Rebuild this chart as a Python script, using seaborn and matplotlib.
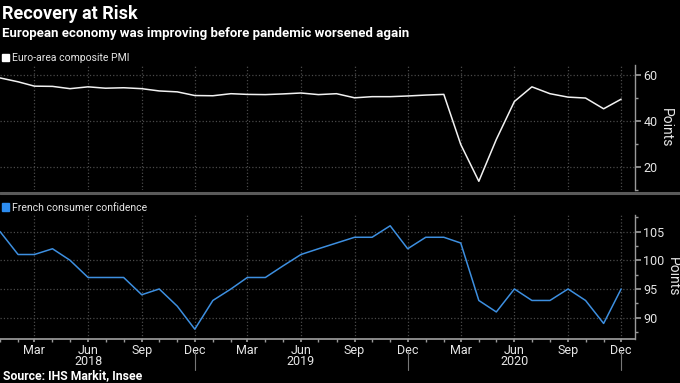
import pandas as pd
import numpy as np
import matplotlib
matplotlib.use("Agg")
import matplotlib.pyplot as plt
import matplotlib.dates as mdates
from matplotlib.patches import Patch
from matplotlib.ticker import MultipleLocator
import seaborn as sns

# monthly data, Jan 2018 - Dec 2020
months = pd.date_range("2018-01-01", periods=36, freq="MS")
pmi = [58.8, 57.1, 55.2, 55.1, 54.1, 54.9, 54.3, 54.5, 54.1, 53.1, 52.7, 51.1,
       51.0, 51.9, 51.6, 51.5, 51.8, 52.2, 51.5, 51.9, 50.1, 50.6, 50.6, 50.9,
       51.3, 51.6, 29.7, 13.6, 31.9, 48.5, 54.9, 51.9, 50.4, 50.0, 45.3, 49.5]
french_conf = [105, 101, 101, 102, 100, 97, 97, 97, 94, 95, 92, 88,
               93, 95, 97, 97, 99, 101, 102, 103, 104, 104, 106, 102,
               104, 104, 103, 93, 91, 95, 93, 93, 95, 93, 89, 95]
years = [2018, 2019, 2020]

df = pd.DataFrame({"date": months, "pmi": pmi, "conf": french_conf})

sns.set_theme(style="dark")
plt.rcParams["font.family"] = ["Roboto", "DejaVu Sans"]

bg = "black"
grid_c = "#4a4a4a"
spine_c = "#9a9a9a"
txt_c = "#e6e6e6"
blue = "#3d8fe0"

fig = plt.figure(figsize=(6.8, 3.83), dpi=100, facecolor=bg)
ax1 = fig.add_axes([0.0, 0.504, 0.934, 0.326])
ax2 = fig.add_axes([0.0, 0.115, 0.934, 0.324], sharex=ax1)

sns.lineplot(data=df, x="date", y="pmi", ax=ax1, color="#f2f2f2", linewidth=1.1)
sns.lineplot(data=df, x="date", y="conf", ax=ax2, color=blue, linewidth=1.1)

ax1.set_xlim(pd.Timestamp("2018-01-01"), pd.Timestamp("2020-12-25"))
ax1.set_ylim(9.8, 64.4)
ax2.set_ylim(86.3, 107.9)

for ax in (ax1, ax2):
    ax.set_facecolor(bg)
    ax.set_xlabel("")
    ax.set_ylabel("Points", rotation=270, color=txt_c, fontsize=10, labelpad=11)
    ax.yaxis.set_label_position("right")
    ax.yaxis.tick_right()
    for s in ["left", "top", "bottom"]:
        ax.spines[s].set_visible(False)
    ax.spines["right"].set_visible(True)
    ax.spines["right"].set_color(spine_c)
    ax.spines["right"].set_linewidth(1)
    ax.xaxis.set_major_locator(mdates.MonthLocator(bymonth=[3, 6, 9, 12]))
    ax.xaxis.set_minor_locator(mdates.MonthLocator())
    ax.xaxis.set_major_formatter(mdates.DateFormatter("%b"))
    ax.grid(True, which="major", color=grid_c, linestyle=":", linewidth=0.9)
    ax.tick_params(axis="y", which="both", right=True, direction="out",
                   colors=spine_c, labelcolor=txt_c, labelsize=9, pad=2)
    ax.tick_params(axis="y", which="major", length=4)
    ax.tick_params(axis="y", which="minor", length=2)

ax1.yaxis.set_major_locator(MultipleLocator(20))
ax1.yaxis.set_minor_locator(MultipleLocator(10))
ax2.yaxis.set_major_locator(MultipleLocator(5))
ax2.yaxis.set_minor_locator(MultipleLocator(2.5))

ax1.tick_params(axis="x", which="both", bottom=False, labelbottom=False)
ax2.spines["bottom"].set_visible(True)
ax2.spines["bottom"].set_color(spine_c)
ax2.tick_params(axis="x", which="both", bottom=True, direction="out",
                colors=spine_c, labelcolor=txt_c, labelsize=9, pad=1)
ax2.tick_params(axis="x", which="major", length=2.5)
ax2.tick_params(axis="x", which="minor", length=2)

# year labels and separators
for y in years:
    ax2.text(mdates.date2num(pd.Timestamp(f"{y}-06-01")), -0.185, str(y),
             transform=ax2.get_xaxis_transform(), ha="center", va="center",
             color=txt_c, fontsize=9)
    ax2.plot([mdates.date2num(pd.Timestamp(f"{y}-12-01"))] * 2, [-0.1, -0.25],
             transform=ax2.get_xaxis_transform(), color="#777777", lw=0.8,
             clip_on=False)

# separator between panels
fig.add_artist(plt.Line2D([0, 1], [0.497, 0.497], transform=fig.transFigure,
                          color="#5a5a5a", lw=2.2))

# legends
leg1 = ax1.legend(handles=[Patch(color="white", label="Euro-area composite PMI")],
                  loc="lower left", bbox_to_anchor=(0.0, 1.0), frameon=False,
                  handlelength=0.7, handleheight=0.7, handletextpad=0.3,
                  borderaxespad=0.1, borderpad=0.1, fontsize=7.5)
for t in leg1.get_texts():
    t.set_color(txt_c)
leg2 = ax2.legend(handles=[Patch(color="#2c8cf0", label="French consumer confidence")],
                  loc="lower left", bbox_to_anchor=(0.0, 1.0), frameon=False,
                  handlelength=0.7, handleheight=0.7, handletextpad=0.3,
                  borderaxespad=0.1, borderpad=0.1, fontsize=7.5)
for t in leg2.get_texts():
    t.set_color(txt_c)

fig.text(0.003, 0.963, "Recovery at Risk", color="white", fontsize=13,
         fontweight="bold", va="center", ha="left")
fig.text(0.003, 0.912, "European economy was improving before pandemic worsened again",
         color="white", fontsize=9.5, fontweight="bold", va="center", ha="left")
fig.text(0.004, 0.02, "Source: IHS Markit, Insee", color="white", fontsize=8.8,
         fontweight="bold", va="center", ha="left")

fig.savefig("out.png", dpi=100, facecolor=bg)
